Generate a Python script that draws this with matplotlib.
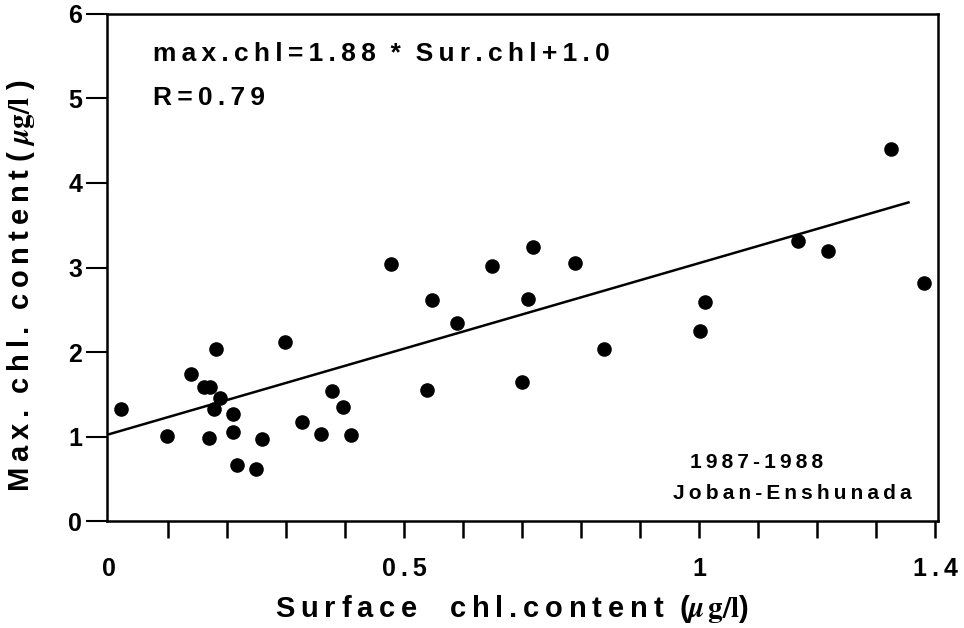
import matplotlib
matplotlib.use("Agg")
from matplotlib import pyplot as plt
import numpy as np

plt.rcParams['font.family'] = ['Liberation Sans', 'DejaVu Sans']
plt.rcParams['font.weight'] = 'bold'
plt.rcParams['mathtext.fontset'] = 'stix'

# surface chl vs max chl
sur_chl = [0.019, 0.098, 0.139, 0.160, 0.171, 0.180, 0.188, 0.178, 0.169, 0.210,
           0.209, 0.217, 0.249, 0.259, 0.298, 0.327, 0.359, 0.378, 0.397, 0.410,
           0.478, 0.547, 0.590, 0.539, 0.649, 0.719, 0.710, 0.700, 0.790, 0.839,
           1.002, 1.010, 1.168, 1.219, 1.325, 1.381]
max_chl = [1.33, 1.01, 1.74, 1.59, 1.59, 2.04, 1.46, 1.33, 0.99, 1.27,
           1.06, 0.66, 0.62, 0.97, 2.12, 1.17, 1.03, 1.54, 1.35, 1.02,
           3.04, 2.62, 2.34, 1.55, 3.02, 3.24, 2.63, 1.65, 3.05, 2.04,
           2.25, 2.59, 3.31, 3.20, 4.40, 2.82]

# regression line as drawn
line_x = [0.0, 1.355]
line_y = [1.03, 3.77]

xticks = np.round(np.arange(0, 1.41, 0.1), 1)
xlabels = {0.0: '0', 0.5: '0.5', 1.0: '1', 1.4: '1.4'}
yticks = [0, 1, 2, 3, 4, 5, 6]


def spaced(s, sep='\u2009'):
    # the original lettering is widely tracked
    return sep.join(s)


fig = plt.figure(figsize=(9.64, 6.28), dpi=100)
ax = fig.add_axes([0.111, 0.170, 0.862, 0.808])

ax.scatter(sur_chl, max_chl, s=90, color='black', zorder=3)
ax.plot(line_x, line_y, color='black', lw=1.8)

ax.set_xlim(-0.004, 1.405)
ax.set_ylim(0, 6)
ax.set_xticks(xticks)
ax.set_xticklabels([spaced(xlabels.get(t, '')) for t in xticks])
ax.set_yticks(yticks)
ax.set_yticklabels([str(t) for t in yticks])
ax.tick_params(axis='x', length=12, width=1.8, pad=14, labelsize=18)
ax.tick_params(axis='y', length=15, width=1.5, pad=3, labelsize=18)
ax.xaxis.get_major_ticks()[0].tick1line.set_visible(False)
for s in ax.spines.values():
    s.set_linewidth(1.8)

ax.text(0.055, 0.92, spaced('max.chl=1.88') + '  *  ' + spaced('Sur.chl+1.0'),
        transform=ax.transAxes, fontsize=19, fontweight='bold', va='center')
ax.text(0.055, 0.835, spaced('R=0.79'), transform=ax.transAxes,
        fontsize=19, fontweight='bold', va='center')
ax.text(0.701, 0.115, spaced('1987-1988'), transform=ax.transAxes,
        fontsize=15, fontweight='bold', ha='left', va='center')
ax.text(0.681, 0.055, spaced('Joban-Enshunada'), transform=ax.transAxes,
        fontsize=15, fontweight='bold', ha='left', va='center')

xlab = spaced('Surface') + '    ' + spaced('chl.content') + '  ($\\mu\\,\\mathrm{g/l}$)'
ylab = spaced('Max.') + '  ' + spaced('chl.') + '  ' + spaced('content') + \
    ' ( $\\mu\\mathrm{g/l}$ )'
ax.set_xlabel(xlab, fontsize=21, fontweight='bold')
ax.set_ylabel(ylab, fontsize=21, fontweight='bold')
ax.xaxis.set_label_coords(0.487, -0.142)
ax.yaxis.set_label_coords(-0.084, 0.465)

fig.savefig('out.png', dpi=100)
